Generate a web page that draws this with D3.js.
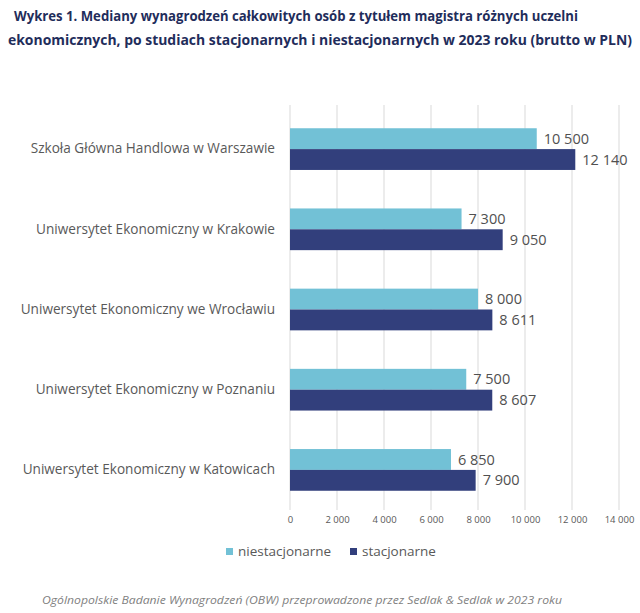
<!DOCTYPE html>
<html><head><meta charset="utf-8">
<script src="https://cdn.jsdelivr.net/npm/d3@7"></script>
<style>body{margin:0;background:#fff}svg{display:block}</style>
</head><body>
<svg id="c" width="640" height="613"></svg>
<script>
const categories = ["Szkoła Główna Handlowa w Warszawie","Uniwersytet Ekonomiczny w Krakowie","Uniwersytet Ekonomiczny we Wrocławiu","Uniwersytet Ekonomiczny w Poznaniu","Uniwersytet Ekonomiczny w Katowicach"];
const niestacjonarne = [10500, 7300, 8000, 7500, 6850];
const stacjonarne = [12140, 9050, 8611, 8607, 7900];
const seriesNames = ["niestacjonarne","stacjonarne"];
const ticks = [0,2000,4000,6000,8000,10000,12000,14000];
const colors = ["#72C1D6","#323F7C"];

const svg = d3.select("#c");
const font = "'Open Sans', 'Noto Sans', sans-serif";
const fmt = v => d3.format(",")(v).replace(/,/g, " ");

// title
svg.append("text").attr("x",14).attr("y",21).attr("font-family",font).attr("font-weight","bold")
  .attr("font-size",13.5).attr("fill","#1F2D5B").attr("textLength",564).attr("lengthAdjust","spacingAndGlyphs")
  .text("Wykres 1. Mediany wynagrodzeń całkowitych osób z tytułem magistra różnych uczelni");
svg.append("text").attr("x",8).attr("y",45).attr("font-family",font).attr("font-weight","bold")
  .attr("font-size",13.5).attr("fill","#1F2D5B").attr("textLength",624).attr("lengthAdjust","spacingAndGlyphs")
  .text("ekonomicznych, po studiach stacjonarnych i niestacjonarnych w 2023 roku (brutto w PLN)");

const x = d3.scaleLinear().domain([0,14000]).range([290,619]);
const y = d3.scaleBand().domain(categories).range([109,510]).paddingInner(0.48).paddingOuter(0.24);
const sub = d3.scaleBand().domain(seriesNames).range([0,y.bandwidth()]);

// gridlines
svg.append("g").selectAll("line").data(ticks).join("line")
  .attr("x1",d=>x(d)).attr("x2",d=>x(d)).attr("y1",105).attr("y2",510)
  .attr("stroke","#D9D9D9").attr("stroke-width",1);

// x axis tick labels
const xAxis = d3.axisBottom(x).tickValues(ticks).tickSize(0).tickFormat(fmt);
const gx = svg.append("g").attr("transform","translate(0,513)").call(xAxis);
gx.select(".domain").remove();
gx.selectAll("text").attr("font-family",font).attr("font-size",9.5).attr("fill","#595959");

// category labels
const yAxis = d3.axisLeft(y).tickSize(0).tickPadding(0);
const gy = svg.append("g").attr("transform","translate(275,0)").call(yAxis);
gy.select(".domain").remove();
gy.selectAll("text").attr("font-family",font).attr("font-size",13.6).attr("fill","#595959");

const data = categories.map((c,i)=>({c, vals:[niestacjonarne[i], stacjonarne[i]]}));
const g = svg.append("g").selectAll("g").data(data).join("g").attr("transform",d=>`translate(0,${y(d.c)})`);
g.selectAll("rect").data(d=>d.vals.map((v,j)=>({v,s:seriesNames[j],j}))).join("rect")
  .attr("x",x(0)).attr("y",d=>sub(d.s)).attr("width",d=>x(d.v)-x(0)).attr("height",sub.bandwidth())
  .attr("fill",d=>colors[d.j]);
g.selectAll("text").data(d=>d.vals.map((v,j)=>({v,s:seriesNames[j],j}))).join("text")
  .attr("x",d=>x(d.v)+7).attr("y",d=>sub(d.s)+sub.bandwidth()/2).attr("dy","0.35em")
  .attr("font-family",font).attr("font-size",14.5).attr("fill","#505050").text(d=>fmt(d.v));

// legend
const legX = [226, 350];
const lg = svg.append("g").selectAll("g").data(seriesNames).join("g").attr("transform",(d,i)=>`translate(${legX[i]},548)`);
lg.append("rect").attr("width",7).attr("height",7).attr("fill",(d,i)=>colors[i]);
lg.append("text").attr("x",12).attr("y",3.5).attr("dy","0.35em").attr("font-family",font).attr("font-size",13.5).attr("fill","#595959").text(d=>d);

// footer
svg.append("text").attr("x",42).attr("y",604).attr("font-family",font).attr("font-style","italic")
  .attr("font-size",10.5).attr("fill","#7F7F7F").attr("textLength",520).attr("lengthAdjust","spacingAndGlyphs")
  .text("Ogólnopolskie Badanie Wynagrodzeń (OBW) przeprowadzone przez Sedlak & Sedlak w 2023 roku");
</script>
</body></html>
